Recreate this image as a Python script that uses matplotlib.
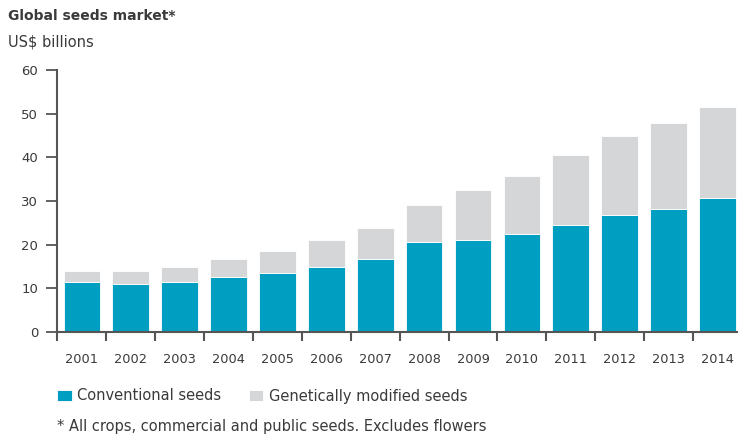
import matplotlib
matplotlib.use("Agg")
import matplotlib.pyplot as plt
import numpy as np

years = ["2001", "2002", "2003", "2004", "2005", "2006", "2007",
         "2008", "2009", "2010", "2011", "2012", "2013", "2014"]
total = [14.0, 14.0, 14.8, 16.7, 18.6, 21.0, 23.9,
         29.1, 32.5, 35.8, 40.6, 44.9, 47.8, 51.6]
conventional = [11.5, 11.1, 11.5, 12.5, 13.4, 14.9, 16.8,
                20.6, 21.1, 22.5, 24.4, 26.8, 28.2, 30.6]
gm = [t - c for t, c in zip(total, conventional)]

teal = "#009FC1"
grey = "#D5D6D8"
txt = "#3a3a3a"
spine_c = "#555555"

plt.rcParams['font.family'] = ['DejaVu Sans']

fig = plt.figure(figsize=(7.38, 4.34), dpi=100)
ax = fig.add_axes([57.5/738, 1 - 332/434, 1 - 57.5/738, (332 - 70)/434])

x = np.arange(len(years))
b1 = ax.bar(x, conventional, width=0.75, color=teal, label="Conventional seeds",
            edgecolor="white", linewidth=0.6)
b2 = ax.bar(x, gm, bottom=conventional, width=0.75, color=grey,
            label="Genetically modified seeds", edgecolor="white", linewidth=0.6)

ax.set_xlim(-0.5, 13.42)
ax.set_ylim(0, 60)
ax.set_yticks(range(0, 61, 10))
ax.set_xticks(x)
ax.set_xticklabels(years)
ax.set_xticks(np.arange(len(years)) - 0.5, minor=True)
ax.tick_params(axis='x', which='major', length=0, pad=15, labelsize=9.3, labelcolor=txt)
ax.tick_params(axis='x', which='minor', length=6.5, width=1.5, color=spine_c, direction='out')
ax.tick_params(axis='y', length=8, width=1.3, color=spine_c, pad=6, labelsize=9.5, labelcolor=txt)

for s in ["top", "right"]:
    ax.spines[s].set_visible(False)
for s in ["left", "bottom"]:
    ax.spines[s].set_color(spine_c)
    ax.spines[s].set_linewidth(1.5)

fig.text(8/738, 1 - 16/434, "Global seeds market*", fontsize=10, fontweight="bold",
         color=txt, va="center", ha="left")
fig.text(8/738, 1 - 42/434, "US$ billions", fontsize=10.5, color=txt, va="center", ha="left")

fig.legend(handles=[b1, b2], loc="center left", bbox_to_anchor=(57/738, 1 - 396/434),
           ncol=2, frameon=False, fontsize=10.5, handlelength=1.0, handleheight=0.8,
           handletextpad=0.4, columnspacing=1.85, labelcolor=txt,
           borderpad=0, borderaxespad=0)

fig.text(57/738, 1 - 427/434, "* All crops, commercial and public seeds. Excludes flowers",
         fontsize=10.5, color=txt, va="center", ha="left")

fig.savefig("out.png", dpi=100)
